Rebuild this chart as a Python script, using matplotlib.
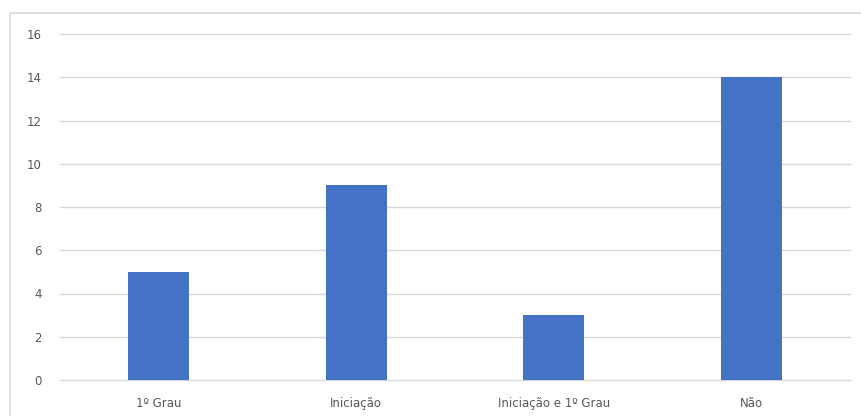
import matplotlib
matplotlib.use("Agg")
import matplotlib.pyplot as plt
from matplotlib.patches import Rectangle

categories = ["1º Grau", "Iniciação", "Iniciação e 1º Grau", "Não"]
values = [5, 9, 3, 14]
yticks = [0, 2, 4, 6, 8, 10, 12, 14, 16]

W, H = 861, 416
fig = plt.figure(figsize=(W / 100, H / 100), dpi=100)
fig.patch.set_facecolor("white")

# chart area frame
fig.patches.append(Rectangle((10 / W, -0.01), 1.0, (H - 13) / H + 0.01,
                             transform=fig.transFigure, fill=False,
                             edgecolor="#d9d9d9", linewidth=1.2))

left, right = 60 / W, 850 / W
bottom, top = 1 - 380 / H, 1 - 34 / H
ax = fig.add_axes([left, bottom, right - left, top - bottom])

x = range(len(categories))
ax.bar(x, values, width=0.31, color="#4472c4", zorder=3)

ax.set_xlim(-0.5, len(categories) - 0.5)
ax.set_ylim(0, 16)
ax.set_yticks(yticks)
ax.set_xticks(list(x))
ax.set_xticklabels(categories)
ax.grid(axis="y", color="#d9d9d9", linewidth=1.0, zorder=0)
for line in ax.get_ygridlines():
    line.set_clip_on(False)
for s in ax.spines.values():
    s.set_visible(False)
ax.tick_params(axis="both", length=0, labelsize=8.5, labelcolor="#595959")
ax.tick_params(axis="y", pad=13)
ax.tick_params(axis="x", pad=12)

fig.savefig("out.png", dpi=100, facecolor="white")
